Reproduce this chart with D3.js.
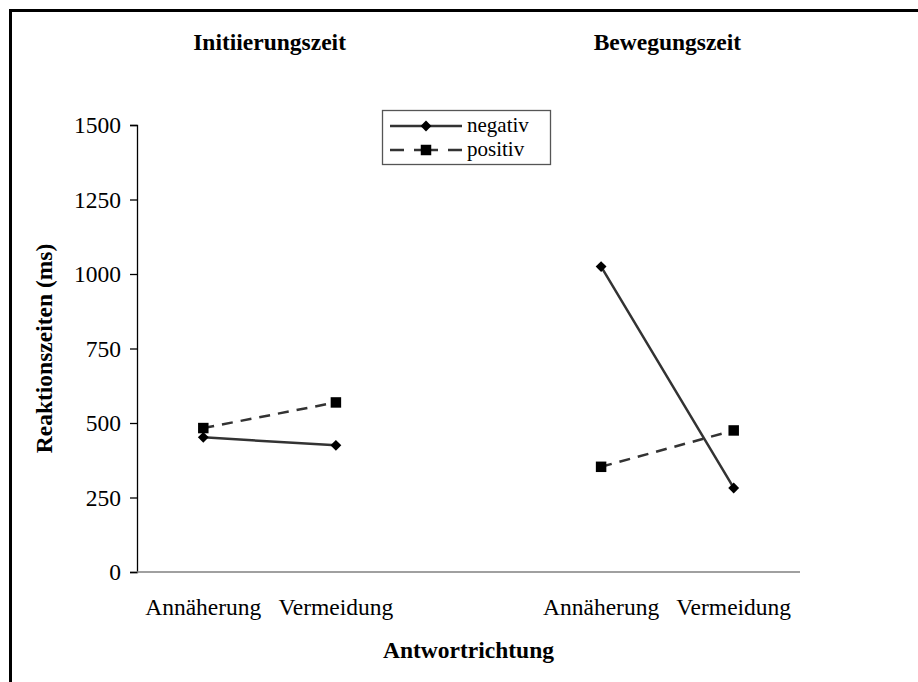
<!DOCTYPE html>
<html>
<head>
<meta charset="utf-8">
<script src="https://cdn.jsdelivr.net/npm/d3@7"></script>
<style>
  html, body { margin: 0; padding: 0; background: #fff; }
  svg { display: block; }
  text { font-family: "Liberation Serif", "Times New Roman", serif; fill: #000; }
</style>
</head>
<body>
<svg id="chart" width="918" height="682"></svg>
<script>
// Category slots on the x axis (the empty slot separates the two panels)
const categories = ["A1", "V1", "gap", "A2", "V2"];
const categoryLabels = ["Annäherung", "Vermeidung", "", "Annäherung", "Vermeidung"];
const panelTitles = ["Initiierungszeit", "Bewegungszeit"];
const panelCategories = [["A1", "V1"], ["A2", "V2"]];

// Mean reaction times (ms)
const negativValues = [452, 425, null, 1025, 282];
const positivValues = [483, 569, null, 353, 475];

const yTicks = [0, 250, 500, 750, 1000, 1250, 1500];

const FS = 23.5;

const svg = d3.select("#chart");

const plot = { left: 137, right: 800, top: 125, bottom: 572 };

const x = d3.scaleBand().domain(categories).range([plot.left, plot.right]);
const cx = c => x(c) + x.bandwidth() / 2;
const y = d3.scaleLinear().domain([0, 1500]).range([plot.bottom, plot.top]);

// Outer frame (top and left edges)
svg.append("line").attr("x1", 10.5).attr("x2", 918).attr("y1", 10.5).attr("y2", 10.5)
  .attr("stroke", "#000").attr("stroke-width", 3);
svg.append("line").attr("x1", 10.5).attr("x2", 10.5).attr("y1", 9).attr("y2", 682)
  .attr("stroke", "#000").attr("stroke-width", 3);

// Y axis
const yAxis = d3.axisLeft(y).tickValues(yTicks).tickSize(7).tickPadding(9).tickFormat(d3.format("d"));
const yg = svg.append("g").attr("transform", `translate(${plot.left},0)`).call(yAxis);
yg.select(".domain").attr("stroke", "#000").attr("stroke-width", 1.3);
yg.selectAll(".tick line").attr("stroke", "#000").attr("stroke-width", 1.3);
yg.selectAll(".tick text").attr("font-size", FS).attr("font-family", "Liberation Serif");

// X axis line
svg.append("line")
  .attr("x1", plot.left).attr("x2", plot.right)
  .attr("y1", y(0)).attr("y2", y(0))
  .attr("stroke", "#808080").attr("stroke-width", 1.5);

// Category labels
svg.append("g").selectAll("text").data(categories).join("text")
  .attr("x", d => cx(d))
  .attr("y", 615)
  .attr("text-anchor", "middle")
  .attr("font-size", FS)
  .text((d, i) => categoryLabels[i]);

// Panel titles
svg.append("g").selectAll("text").data(panelTitles).join("text")
  .attr("x", (d, i) => (cx(panelCategories[i][0]) + cx(panelCategories[i][1])) / 2)
  .attr("y", 50)
  .attr("text-anchor", "middle")
  .attr("font-size", FS)
  .attr("font-weight", "bold")
  .text(d => d);

// Axis titles
svg.append("text")
  .attr("transform", `translate(52,${(plot.top + plot.bottom) / 2}) rotate(-90)`)
  .attr("text-anchor", "middle")
  .attr("font-size", FS)
  .attr("font-weight", "bold")
  .text("Reaktionszeiten (ms)");

svg.append("text")
  .attr("x", (plot.left + plot.right) / 2)
  .attr("y", 658)
  .attr("text-anchor", "middle")
  .attr("font-size", FS)
  .attr("font-weight", "bold")
  .text("Antwortrichtung");

// Series
const series = [
  { name: "negativ", values: negativValues, dash: null, legendDash: null,
    symbol: d3.symbolDiamond2, size: 75 },
  { name: "positiv", values: positivValues, dash: "11,8", legendDash: "14,10,24,10,14",
    symbol: d3.symbolSquare, size: 110 }
];

const line = d3.line().defined(d => d.v != null).x(d => cx(d.c)).y(d => y(d.v));

series.forEach(s => {
  const pts = categories.map((c, i) => ({ c, v: s.values[i] }));
  svg.append("path")
    .datum(pts)
    .attr("d", line)
    .attr("fill", "none")
    .attr("stroke", "#333")
    .attr("stroke-width", 2.5)
    .attr("stroke-dasharray", s.dash);
  svg.append("g").selectAll("path").data(pts.filter(d => d.v != null)).join("path")
    .attr("transform", d => `translate(${cx(d.c)},${y(d.v)})`)
    .attr("d", d3.symbol().type(s.symbol).size(s.size))
    .attr("fill", "#000");
});

// Legend
const legend = svg.append("g");
legend.append("rect")
  .attr("x", 382.5).attr("y", 110.5).attr("width", 168).attr("height", 54)
  .attr("fill", "#fff").attr("stroke", "#555").attr("stroke-width", 1.3);
series.forEach((s, i) => {
  const ly = 126 + i * 24;
  legend.append("line")
    .attr("x1", 390).attr("x2", 462).attr("y1", ly).attr("y2", ly)
    .attr("stroke", "#333").attr("stroke-width", 2.5)
    .attr("stroke-dasharray", s.legendDash);
  legend.append("path")
    .attr("transform", `translate(426,${ly})`)
    .attr("d", d3.symbol().type(s.symbol).size(s.size))
    .attr("fill", "#000");
  legend.append("text")
    .attr("x", 467).attr("y", ly + 6)
    .attr("font-size", 21)
    .text(s.name);
});
</script>
</body>
</html>
